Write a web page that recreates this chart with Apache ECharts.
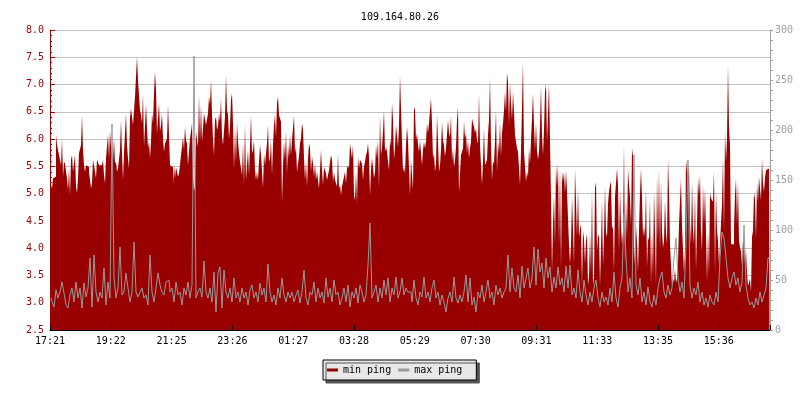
<!DOCTYPE html>
<html><head><meta charset="utf-8">
<script src="https://cdn.jsdelivr.net/npm/echarts@6/dist/echarts.min.js"></script>
<style>html,body{margin:0;padding:0;background:#fff}#c{width:800px;height:400px}</style>
</head><body><div id="c"></div>
<script>
const chartTitle = '109.164.80.26';
const seriesNames = ['min ping', 'max ping'];
const minStepMinutes = 2;        // minutes per min ping sample (one pixel column)
const maxStepMinutes = 4;        // minutes per max ping sample
const totalMinutes = 1440;       // 24 hours shown
const tickIntervalMinutes = 121.6;
const tickLabels = ['17:21','19:22','21:25','23:26','01:27','03:28','05:29','07:30','09:31','11:33','13:35','15:36'];

const minPing = [
5.19,5.19,5.10,5.28,5.31,5.31,6.08,5.89,5.89,5.71,
5.62,5.52,6.01,5.31,5.59,5.55,5.55,5.28,5.07,5.46,
4.97,5.62,5.71,5.40,5.40,5.71,5.13,5.01,5.28,5.74,
5.74,5.89,6.44,5.80,5.52,5.40,5.52,5.52,5.49,5.40,
5.40,5.10,5.19,5.62,5.52,5.52,5.28,5.62,5.65,5.52,
5.55,5.52,5.52,5.62,5.34,5.19,5.65,5.65,6.08,5.65,
6.14,5.86,5.89,5.59,6.01,5.55,5.59,5.40,5.46,5.46,
5.80,6.35,5.74,5.25,5.74,5.74,6.47,5.89,5.65,5.46,
6.38,6.56,6.53,6.26,6.29,6.78,6.81,7.51,7.08,7.11,
6.53,6.44,6.29,6.84,5.86,5.89,6.63,6.20,5.83,5.95,
5.65,5.95,6.47,6.29,6.84,7.24,6.90,6.11,6.08,6.66,
6.14,6.26,6.47,6.01,5.77,5.92,5.92,6.01,6.63,6.08,
5.52,5.49,5.49,5.16,5.52,5.28,5.49,5.40,5.31,5.37,
5.52,5.71,5.86,6.04,5.80,6.23,5.98,5.92,5.52,5.77,
6.01,6.14,6.29,5.31,5.04,5.13,6.14,5.98,5.86,6.81,
5.95,6.63,5.95,5.95,6.47,6.50,6.26,6.23,6.47,6.78,
6.63,7.08,6.47,5.98,5.71,6.35,6.41,6.17,6.23,6.47,
6.32,6.75,6.04,5.89,5.92,6.41,7.17,6.53,6.44,6.01,
6.23,6.72,6.84,6.29,5.45,6.17,5.59,6.29,5.95,5.74,
5.59,5.46,5.34,5.92,5.16,6.29,5.25,5.52,5.80,5.34,
5.86,6.44,5.74,5.80,5.98,5.43,5.25,5.40,5.25,5.22,
5.89,5.71,5.68,5.10,5.74,5.52,5.74,5.92,6.26,5.59,
5.65,5.98,5.34,5.89,6.26,6.44,6.04,6.66,6.78,6.44,
6.41,6.32,4.82,5.52,5.95,5.62,6.14,5.37,5.89,5.65,
6.08,5.71,5.98,5.98,6.43,5.74,5.86,5.40,5.43,5.68,
5.92,6.01,6.29,6.17,5.65,5.25,5.59,5.13,5.62,5.92,
5.83,5.40,5.68,5.55,5.31,5.55,5.25,5.40,5.25,5.10,
5.43,5.80,5.43,5.16,5.49,5.49,5.37,5.25,5.28,5.43,
5.40,5.71,5.62,5.22,5.40,5.25,5.28,5.13,5.74,5.10,
5.16,4.97,5.13,5.22,5.31,5.40,5.19,5.46,5.52,5.46,
5.92,5.92,5.65,5.89,4.97,4.88,5.40,4.82,5.68,5.46,
5.62,5.65,5.55,5.25,5.49,5.59,5.71,5.77,5.92,5.68,
4.97,5.43,5.65,5.49,5.28,5.40,5.89,5.65,5.98,5.10,
6.44,5.71,5.86,6.14,6.53,5.77,5.86,5.77,5.59,5.43,
6.01,5.86,6.66,6.35,5.62,5.86,6.26,6.26,5.86,6.26,
7.17,7.17,5.95,5.40,5.49,5.37,5.89,6.23,5.95,5.92,
4.97,5.62,5.59,5.07,6.59,6.53,5.98,6.11,5.89,5.77,
5.98,5.74,5.52,5.80,5.95,5.83,5.95,6.29,6.11,6.29,
6.26,6.75,6.29,5.65,5.74,5.40,5.55,6.44,5.95,5.40,
5.52,5.80,6.32,5.98,5.89,5.68,5.83,5.80,6.35,6.11,
6.04,6.44,5.59,5.83,5.49,5.62,5.86,6.35,6.59,5.01,
5.37,5.71,5.71,5.83,6.32,6.01,6.11,5.74,5.98,5.65,
5.83,5.95,6.38,6.29,6.23,6.11,6.20,5.98,5.92,6.83,
5.89,5.92,5.16,5.59,6.19,5.52,5.49,5.62,6.08,6.35,
7.14,5.89,5.25,5.59,5.55,5.98,6.53,5.40,5.95,5.74,
6.32,5.68,6.11,6.29,6.53,6.87,6.50,7.21,7.05,6.26,
7.02,6.66,6.35,6.87,6.50,6.08,5.95,5.83,5.77,5.77,
5.16,5.77,6.59,7.42,5.77,5.74,5.22,5.40,5.31,5.83,
5.55,5.98,6.38,6.84,6.26,5.80,6.29,5.80,5.62,5.77,
6.26,6.96,6.08,5.71,6.17,6.87,7.00,5.95,6.47,7.02,
5.95,4.94,3.56,4.44,4.97,4.07,5.52,5.13,5.55,4.07,
5.52,3.62,5.40,5.22,5.40,5.01,5.43,5.04,5.04,4.07,
3.71,4.07,4.94,4.35,3.71,5.46,4.85,4.20,5.10,4.20,
4.35,4.44,3.30,4.32,4.17,3.71,4.14,4.26,3.31,3.50,
4.26,3.53,5.07,3.31,3.47,5.10,5.22,3.95,4.20,4.26,
3.31,4.01,4.88,3.68,4.20,5.13,4.29,4.20,4.82,5.04,
5.16,5.22,4.35,4.41,3.56,4.94,4.97,5.46,5.16,3.95,
5.10,4.41,4.07,4.29,5.92,3.68,4.91,4.20,5.46,5.16,
4.94,4.41,5.83,5.68,3.68,3.71,4.41,4.07,3.56,4.32,
5.01,5.46,4.91,4.20,4.41,4.20,5.10,3.65,4.20,4.14,
4.91,3.31,4.32,3.50,5.04,4.32,3.32,5.34,4.14,5.46,
3.95,5.22,4.32,4.01,4.14,4.88,4.29,4.07,5.65,5.01,
4.07,3.68,3.31,3.44,3.37,3.62,3.37,3.44,3.74,4.44,
4.41,5.28,4.41,3.98,3.56,3.98,5.62,5.40,5.28,5.52,
4.44,4.07,5.22,4.35,4.07,5.04,3.59,4.44,5.28,4.97,
5.34,4.32,3.95,5.16,4.44,5.10,4.26,3.37,4.32,3.53,
5.01,4.91,4.91,4.85,5.43,3.56,5.07,4.32,4.14,3.68,
4.10,4.07,4.82,5.65,4.32,6.14,5.59,6.01,7.36,6.23,
5.86,4.07,4.10,4.07,4.38,4.97,5.28,4.44,5.22,4.14,
4.01,3.95,3.68,4.14,4.10,3.71,3.95,3.56,3.31,3.37,
3.44,3.19,4.20,4.32,5.01,4.91,4.17,5.19,4.85,5.31,
5.28,4.88,5.65,5.19,5.04,5.28,5.43,5.46,5.46,6.08
];

const maxPing = [
32,28,23,40,32,38,48,37,25,22,
35,42,28,48,32,42,22,47,33,42,
72,23,75,38,28,38,32,62,25,48,
32,206,52,32,42,83,35,38,57,42,
28,38,88,38,33,38,42,32,35,25,
75,38,28,42,57,45,38,35,48,50,
38,42,28,48,35,38,25,42,35,48,
32,45,274,32,38,42,33,69,38,32,
42,28,58,18,57,63,22,60,38,32,
42,28,52,32,38,28,42,32,38,25,
40,45,32,38,28,47,35,42,28,66,
38,28,35,25,42,32,52,35,28,38,
32,38,28,35,40,27,38,60,32,25,
38,35,48,28,42,32,38,27,52,33,
42,28,50,35,38,25,32,42,28,45,
23,38,32,42,27,45,38,28,35,65,
107,32,38,45,28,42,32,50,35,52,
28,42,35,53,32,38,52,35,42,38,
38,28,50,32,25,38,33,53,32,38,
28,42,50,32,38,25,35,28,18,32,
38,28,53,32,27,35,28,38,55,28,
52,25,33,18,38,32,45,28,38,50,
32,38,25,45,35,42,32,38,42,75,
38,62,42,38,55,32,64,42,52,62,
42,52,83,45,81,58,67,42,72,52,
63,38,53,42,63,45,52,38,64,42,
65,35,42,32,60,38,28,50,35,25,
38,28,42,50,32,23,38,28,33,25,
42,28,58,32,23,42,52,117,72,38,
52,32,175,45,35,52,28,38,25,43,
28,23,35,25,42,52,58,38,32,45,
35,42,72,92,52,38,48,32,88,170,
45,32,42,35,48,28,38,25,32,23,
35,28,25,38,28,72,98,92,72,52,
42,52,58,45,52,38,48,105,45,32,
25,28,22,32,25,38,28,35,42,72
];

const FONT = 'DejaVu Sans Mono';
const RED = '#990000';
const GRAY = '#999999';

// each sample is placed at the centre of its time bucket
const minData = minPing.map((v, i) => [i * minStepMinutes + minStepMinutes / 2, v]);
const maxData = maxPing.map((v, i) => [i * maxStepMinutes + maxStepMinutes / 2, v]);

const chart = echarts.init(document.getElementById('c'), null, {renderer: 'canvas'});
chart.setOption({
  animation: false,
  backgroundColor: '#ffffff',
  title: {
    text: chartTitle, left: 'center', top: 7,
    textStyle: {fontFamily: FONT, fontSize: 10, fontWeight: 'normal', color: '#000'}
  },
  grid: {left: 50, right: 30, top: 30, bottom: 70, containLabel: false},
  legend: {
    data: seriesNames, left: 323, top: 360,
    padding: [5, 14, 5, 4], itemGap: 7, itemWidth: 11, itemHeight: 3, icon: 'rect',
    backgroundColor: '#e8e8e8', borderColor: '#000', borderWidth: 1,
    shadowColor: '#555555', shadowBlur: 0, shadowOffsetX: 3, shadowOffsetY: 3,
    textStyle: {fontFamily: FONT, fontSize: 10, color: '#000'}
  },
  xAxis: {
    type: 'value', min: 0, max: totalMinutes, interval: tickIntervalMinutes, z: 3,
    axisLine: {show: true, lineStyle: {color: '#000', width: 1}},
    axisTick: {show: true, inside: true, length: 5, lineStyle: {color: '#000'}},
    splitLine: {show: false},
    axisLabel: {
      fontFamily: FONT, fontSize: 10, color: '#000', margin: 6,
      formatter: function (v) {
        const k = Math.round(v / tickIntervalMinutes);
        if (Math.abs(v - k * tickIntervalMinutes) > 0.5) return '';
        return tickLabels[k] || '';
      }
    }
  },
  yAxis: [{
    type: 'value', min: 2.5, max: 8.0, interval: 0.5, position: 'left',
    axisLine: {show: true, lineStyle: {color: RED}},
    axisTick: {show: true, inside: true, length: 5, lineStyle: {color: RED}},
    minorTick: {show: true, splitNumber: 5, length: 2, lineStyle: {color: RED}},
    splitLine: {show: true, lineStyle: {color: '#c0c0c0', width: 1}},
    axisLabel: {fontFamily: FONT, fontSize: 10, color: RED, margin: 6,
      formatter: v => v.toFixed(1)}
  }, {
    type: 'value', min: 0, max: 300, interval: 50, position: 'right', z: 3,
    axisLine: {show: true, lineStyle: {color: '#a0a0a0'}},
    axisTick: {show: true, inside: false, length: 3, lineStyle: {color: '#a0a0a0'}},
    minorTick: {show: true, splitNumber: 5, length: 3, lineStyle: {color: '#a0a0a0'}},
    splitLine: {show: false},
    axisLabel: {fontFamily: FONT, fontSize: 10, color: '#a0a0a0', margin: 5}
  }],
  series: [{
    name: seriesNames[0], type: 'line', yAxisIndex: 0, data: minData,
    step: 'middle', showSymbol: false, symbol: 'none', color: RED,
    lineStyle: {color: RED, width: 0},
    areaStyle: {color: RED, opacity: 1, origin: 'start'}
  }, {
    name: seriesNames[1], type: 'line', yAxisIndex: 1, data: maxData,
    step: 'middle', showSymbol: false, symbol: 'none', color: GRAY,
    lineStyle: {color: GRAY, width: 1}
  }]
});
</script>
</body></html>
